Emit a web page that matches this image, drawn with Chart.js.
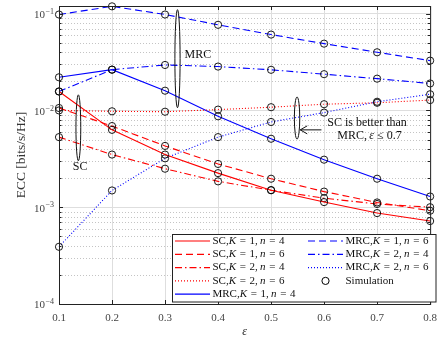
<!DOCTYPE html>
<html>
<head>
<meta charset="utf-8">
<script src="https://cdn.jsdelivr.net/npm/chart.js@4.4.1/dist/chart.umd.min.js"></script>
<style>
  html, body { margin: 0; padding: 0; background: #fff; }
  canvas { display: block; }
</style>
</head>
<body>
<canvas id="ecc-chart" width="445" height="339"></canvas>
<script>
// epsilon values on the x axis
const epsilon = [0.1, 0.2, 0.3, 0.4, 0.5, 0.6, 0.7, 0.8];

// ECC [bits/s/Hz]
const scK1n4  = [0.0157, 0.0063, 0.0035, 0.00225, 0.0015, 0.00113, 0.00087, 0.00072];
const scK1n6  = [0.0106, 0.0069, 0.0043, 0.0028, 0.00197, 0.00145, 0.00112, 0.00092];
const scK2n4  = [0.0053, 0.0035, 0.0025, 0.00185, 0.0015, 0.00124, 0.00108, 0.0010];
const scK2n6  = [0.0100, 0.0098, 0.0097, 0.0102, 0.0108, 0.0116, 0.0120, 0.0128];
const mrcK1n4 = [0.022, 0.0264, 0.016, 0.0087, 0.0051, 0.0031, 0.00197, 0.00129];
const mrcK1n6 = [0.098, 0.119, 0.098, 0.0767, 0.0608, 0.049, 0.0399, 0.0327];
const mrcK2n4 = [0.0157, 0.0264, 0.0295, 0.0284, 0.0263, 0.0237, 0.0213, 0.019];
const mrcK2n6 = [0.00039, 0.00149, 0.0032, 0.0053, 0.0076, 0.0095, 0.0123, 0.0147];

// ticks
const xTicks = [0.1, 0.2, 0.3, 0.4, 0.5, 0.6, 0.7, 0.8];
const yDecades = [1e-4, 1e-3, 1e-2, 1e-1];
const yExponents = ['\u22124', '\u22123', '\u22122', '\u22121'];

const SERIF = '"Liberation Serif", "DejaVu Serif", serif';
const RED = '#ff0000';
const BLUE = '#0000ff';
const DASH = [7, 4];
const DASHDOT = [7, 3, 1.5, 3];
const DOT = [1, 2];

// '_' marks the next character as italic
const series = [
  { label: 'SC,_K = 1, _n = 4',  values: scK1n4,  color: RED,  dash: [] },
  { label: 'SC,_K = 1, _n = 6',  values: scK1n6,  color: RED,  dash: DASH },
  { label: 'SC,_K = 2, _n = 4',  values: scK2n4,  color: RED,  dash: DASHDOT },
  { label: 'SC,_K = 2, _n = 6',  values: scK2n6,  color: RED,  dash: DOT },
  { label: 'MRC,_K = 1, _n = 4', values: mrcK1n4, color: BLUE, dash: [] },
  { label: 'MRC,_K = 1, _n = 6', values: mrcK1n6, color: BLUE, dash: DASH },
  { label: 'MRC,_K = 2, _n = 4', values: mrcK2n4, color: BLUE, dash: DASHDOT },
  { label: 'MRC,_K = 2, _n = 6', values: mrcK2n6, color: BLUE, dash: DOT }
];

function drawRich(ctx, str, x, y, size, align) {
  str = str.replace(/ = /g, '\u2004=\u2004').replace(/, /g, ',\u2009');
  const parts = [];
  let italic = false;
  for (const ch of str) {
    if (ch === '_') { italic = true; continue; }
    parts.push({ ch: ch, italic: italic });
    italic = false;
  }
  const fontOf = (p) => (p.italic ? 'italic ' : '') + size + 'px ' + SERIF;
  let total = 0;
  parts.forEach(p => { ctx.font = fontOf(p); total += ctx.measureText(p.ch).width; });
  let cx = align === 'center' ? x - total / 2 : x;
  ctx.textAlign = 'left';
  ctx.textBaseline = 'middle';
  parts.forEach(p => {
    ctx.font = fontOf(p);
    ctx.fillText(p.ch, cx, y);
    cx += ctx.measureText(p.ch).width;
  });
}

function sampleLine(ctx, s, x0, x1, y) {
  ctx.save();
  ctx.strokeStyle = s.color;
  ctx.lineWidth = 1.2;
  ctx.setLineDash(s.dash);
  ctx.beginPath();
  ctx.moveTo(x0, y);
  ctx.lineTo(x1, y);
  ctx.stroke();
  ctx.restore();
}

function circle(ctx, x, y, r) {
  ctx.beginPath();
  ctx.arc(x, y, r, 0, Math.PI * 2);
  ctx.stroke();
}

const decorations = {
  id: 'decorations',
  beforeDatasetsDraw(chart) {
    const { ctx, chartArea: a, scales: { y } } = chart;
    ctx.save();
    ctx.strokeStyle = '#c4c4c4';
    ctx.lineWidth = 1;
    ctx.setLineDash([1, 2]);
    yDecades.forEach(d => {
      for (let m = 2; m <= 9; m++) {
        const v = m * d;
        if (v > y.max) break;
        const p = Math.round(y.getPixelForValue(v)) + 0.5;
        ctx.beginPath();
        ctx.moveTo(a.left, p);
        ctx.lineTo(a.right, p);
        ctx.stroke();
      }
    });
    ctx.restore();
  },
  afterDraw(chart) {
    const { ctx, chartArea: a, scales: { x, y } } = chart;
    ctx.save();

    // frame and inner ticks
    ctx.strokeStyle = '#222';
    ctx.lineWidth = 1;
    ctx.strokeRect(a.left + 0.5, a.top + 0.5, a.right - a.left, a.bottom - a.top);
    ctx.beginPath();
    xTicks.forEach(t => {
      const p = Math.round(x.getPixelForValue(t)) + 0.5;
      ctx.moveTo(p, a.bottom); ctx.lineTo(p, a.bottom - 4);
      ctx.moveTo(p, a.top); ctx.lineTo(p, a.top + 4);
    });
    yDecades.forEach(d => {
      for (let m = 1; m <= 9; m++) {
        const v = m * d;
        if (v > y.max) break;
        const p = Math.round(y.getPixelForValue(v)) + 0.5;
        const len = m === 1 ? 4 : 2.5;
        ctx.moveTo(a.left, p); ctx.lineTo(a.left + len, p);
        ctx.moveTo(a.right, p); ctx.lineTo(a.right - len, p);
      }
    });
    ctx.stroke();

    // y tick labels 10^n
    ctx.fillStyle = '#444';
    yDecades.forEach((d, i) => {
      const p = y.getPixelForValue(d);
      ctx.font = '11px ' + SERIF;
      ctx.textAlign = 'right';
      ctx.textBaseline = 'middle';
      ctx.fillText('10', 45, p + 1.5);
      ctx.font = '8px ' + SERIF;
      ctx.textAlign = 'left';
      ctx.fillText(yExponents[i], 45.5, p - 2);
    });

    // annotations: ellipses, arrow and labels
    ctx.strokeStyle = '#111';
    ctx.fillStyle = '#111';
    ctx.lineWidth = 1;
    const ell = (xv, yTop, yBot, rx) => {
      const cx = x.getPixelForValue(xv);
      const t = y.getPixelForValue(yTop), b = y.getPixelForValue(yBot);
      ctx.beginPath();
      ctx.ellipse(cx, (t + b) / 2, rx, (b - t) / 2, 0, 0, Math.PI * 2);
      ctx.stroke();
    };
    ell(0.3235, 0.110, 0.01067, 2.6);
    ell(0.1365, 0.0145, 0.00302, 2.4);
    ell(0.549, 0.01377, 0.00506, 2.7);

    drawRich(ctx, 'MRC', x.getPixelForValue(0.3620), y.getPixelForValue(0.0377), 12, 'center');
    drawRich(ctx, 'SC', x.getPixelForValue(0.140), y.getPixelForValue(0.00262), 12, 'center');
    drawRich(ctx, 'SC is better than', x.getPixelForValue(0.681), y.getPixelForValue(0.00752), 12, 'center');
    drawRich(ctx, 'MRC, _\u03b5 \u2264 0.7', x.getPixelForValue(0.6856), y.getPixelForValue(0.00547), 12, 'center');

    const ay = y.getPixelForValue(0.0063);
    const ax0 = x.getPixelForValue(0.595), ax1 = x.getPixelForValue(0.555);
    ctx.beginPath();
    ctx.moveTo(ax0, ay); ctx.lineTo(ax1, ay);
    ctx.moveTo(ax1 + 7, ay - 4); ctx.lineTo(ax1, ay); ctx.lineTo(ax1 + 7, ay + 4);
    ctx.stroke();

    // legend box
    const L = 172.5, T = 234.5, R = 436, B = 302;
    ctx.fillStyle = '#fff';
    ctx.fillRect(L, T, R - L, B - T);
    ctx.strokeStyle = '#222';
    ctx.strokeRect(L, T, R - L, B - T);
    const rows = [241, 254.3, 267.6, 280.9, 294.2];
    ctx.fillStyle = '#111';
    series.forEach((s, i) => {
      const col = i < 5 ? 0 : 1;
      const ry = rows[col === 0 ? i : i - 5];
      const x0 = col === 0 ? 175 : 308;
      sampleLine(ctx, s, x0, x0 + 35, ry);
      drawRich(ctx, s.label, x0 + 37.5, ry, 11, 'left');
    });
    ctx.strokeStyle = '#000';
    ctx.lineWidth = 1;
    ctx.setLineDash([]);
    circle(ctx, 325.5, rows[3], 3.6);
    drawRich(ctx, 'Simulation', 345.5, rows[3], 11, 'left');

    ctx.restore();
  }
};

new Chart('ecc-chart', {
  type: 'line',
  data: {
    datasets: series.map(s => ({
      label: s.label,
      data: epsilon.map((e, i) => ({ x: e, y: s.values[i] })),
      borderColor: s.color,
      borderWidth: 1.1,
      borderDash: s.dash,
      fill: false,
      tension: 0,
      clip: false,
      pointStyle: 'circle',
      pointRadius: 3.6,
      pointBorderWidth: 0.9,
      pointBorderColor: '#000',
      pointBackgroundColor: 'rgba(0,0,0,0)'
    }))
  },
  plugins: [decorations],
  options: {
    responsive: false,
    animation: false,
    devicePixelRatio: 1,
    layout: { padding: { top: 6, right: 8, left: 0, bottom: 0 } },
    plugins: {
      legend: { display: false },
      tooltip: { enabled: false }
    },
    scales: {
      x: {
        type: 'linear',
        min: 0.1,
        max: 0.8,
        afterBuildTicks: (s) => { s.ticks = xTicks.map(v => ({ value: v })); },
        afterFit: (s) => { s.height = 35; },
        grid: { color: '#dedede', lineWidth: 1, drawTicks: false },
        border: { display: false },
        ticks: {
          padding: 8,
          color: '#444',
          font: { family: SERIF, size: 11 },
          callback: (v) => Number(v).toFixed(1)
        },
        title: {
          display: true,
          text: '\u03b5',
          color: '#222',
          font: { family: SERIF, size: 12, style: 'italic' },
          padding: { top: 0, bottom: 0 }
        }
      },
      y: {
        type: 'logarithmic',
        min: 1e-4,
        max: 0.12,
        afterBuildTicks: (s) => { s.ticks = yDecades.map(v => ({ value: v })); },
        afterFit: (s) => { s.width = 59; },
        grid: { color: '#dedede', lineWidth: 1, drawTicks: false },
        border: { display: false },
        ticks: { display: false },
        title: {
          display: true,
          text: 'ECC [bits/s/Hz]',
          color: '#333',
          font: { family: SERIF, size: 13.5 },
          padding: { top: 13, bottom: 0 }
        }
      }
    }
  }
});
</script>
</body>
</html>
